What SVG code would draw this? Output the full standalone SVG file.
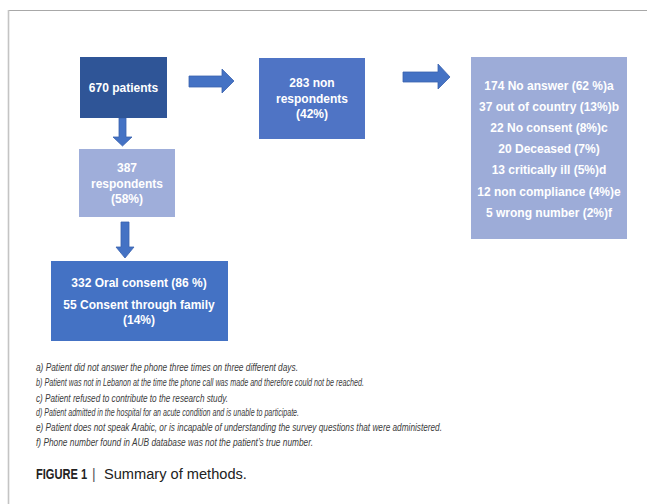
<svg xmlns="http://www.w3.org/2000/svg" width="647" height="504" viewBox="0 0 647 504">
<style>
.bt{font-family:"Liberation Sans",Arial,sans-serif;font-weight:bold;font-size:12px;fill:#ffffff;text-anchor:middle}
.fn{font-family:"Liberation Sans Narrow","Liberation Sans",Arial,sans-serif;font-style:italic;font-size:10px;fill:#3c3c3c}
.arr{fill:#4472C4;stroke:#3A62AE;stroke-width:0.8}
</style>
<rect width="647" height="504" fill="#ffffff"/>
<line x1="8" y1="10.5" x2="647" y2="10.5" stroke="#a8a8a8" stroke-width="1"/>
<line x1="8.5" y1="10" x2="8.5" y2="504" stroke="#c4c4c4" stroke-width="1.6"/>
<g id="connectors">
<polygon class="arr" points="119,118 126,118 126,137 132,137 122.5,146 113,137 119,137"/>
<polygon class="arr" points="121,222 129,222 129,247 134,247 125,258 116,247 121,247"/>
<polygon class="arr" points="189,76 222,76 222,69 234,81 222,93 222,87 189,87"/>
<polygon class="arr" points="403,72 438,72 438,64 450,77 438,89 438,82 403,82"/>
</g>
<g id="n670">
<rect x="80" y="57" width="87" height="61" fill="#2F5597"/>
<text class="bt" x="123.5" y="92" font-size="12.5">670 patients</text>
</g>
<g id="n387">
<rect x="79" y="149" width="96" height="68" fill="#9FAEDA"/>
<text class="bt" x="127" y="172">387</text>
<text class="bt" x="127" y="188">respondents</text>
<text class="bt" x="127" y="203">(58%)</text>
</g>
<g id="n283">
<rect x="259" y="58" width="106" height="81" fill="#4F74C5"/>
<text class="bt" x="312" y="87">283 non</text>
<text class="bt" x="312" y="103">respondents</text>
<text class="bt" x="312" y="118">(42%)</text>
</g>
<g id="nreasons">
<rect x="471" y="57" width="156" height="182" fill="#9DACD8"/>
<text class="bt" x="549" y="90">174 No answer (62 %)a</text>
<text class="bt" x="549" y="111">37 out of country (13%)b</text>
<text class="bt" x="549" y="132">22 No consent (8%)c</text>
<text class="bt" x="549" y="153">20 Deceased (7%)</text>
<text class="bt" x="549" y="174">13 critically ill (5%)d</text>
<text class="bt" x="549" y="196">12 non compliance (4%)e</text>
<text class="bt" x="549" y="217">5 wrong number (2%)f</text>
</g>
<g id="n332">
<rect x="51" y="261" width="177" height="80" fill="#4472C4"/>
<text class="bt" x="139" y="287">332 Oral consent (86 %)</text>
<text class="bt" x="139" y="309">55 Consent through family</text>
<text class="bt" x="139" y="324">(14%)</text>
</g>
<g id="footnotes">
<text class="fn" x="36" y="371" textLength="262" lengthAdjust="spacingAndGlyphs">a) Patient did not answer the phone three times on three different days.</text>
<text class="fn" x="36" y="386" textLength="328" lengthAdjust="spacingAndGlyphs">b) Patient was not in Lebanon at the time the phone call was made and therefore could not be reached.</text>
<text class="fn" x="36" y="402" textLength="192" lengthAdjust="spacingAndGlyphs">c) Patient refused to contribute to the research study.</text>
<text class="fn" x="36" y="416" textLength="263" lengthAdjust="spacingAndGlyphs">d) Patient admitted in the hospital for an acute condition and is unable to participate.</text>
<text class="fn" x="36" y="431" textLength="406" lengthAdjust="spacingAndGlyphs">e) Patient does not speak Arabic, or is incapable of understanding the survey questions that were administered.</text>
<text class="fn" x="36" y="446" textLength="277" lengthAdjust="spacingAndGlyphs">f) Phone number found in AUB database was not the patient’s true number.</text>
</g>
<g id="caption" font-family="'Liberation Sans',Arial,sans-serif" font-size="15" fill="#222222">
<text transform="translate(36,479) scale(0.74,1)" font-weight="bold">FIGURE 1</text>
<text x="92" y="479" fill="#555555" font-size="14">|</text>
<text transform="translate(104,479) scale(0.975,1)">Summary of methods.</text>
</g>
</svg>
